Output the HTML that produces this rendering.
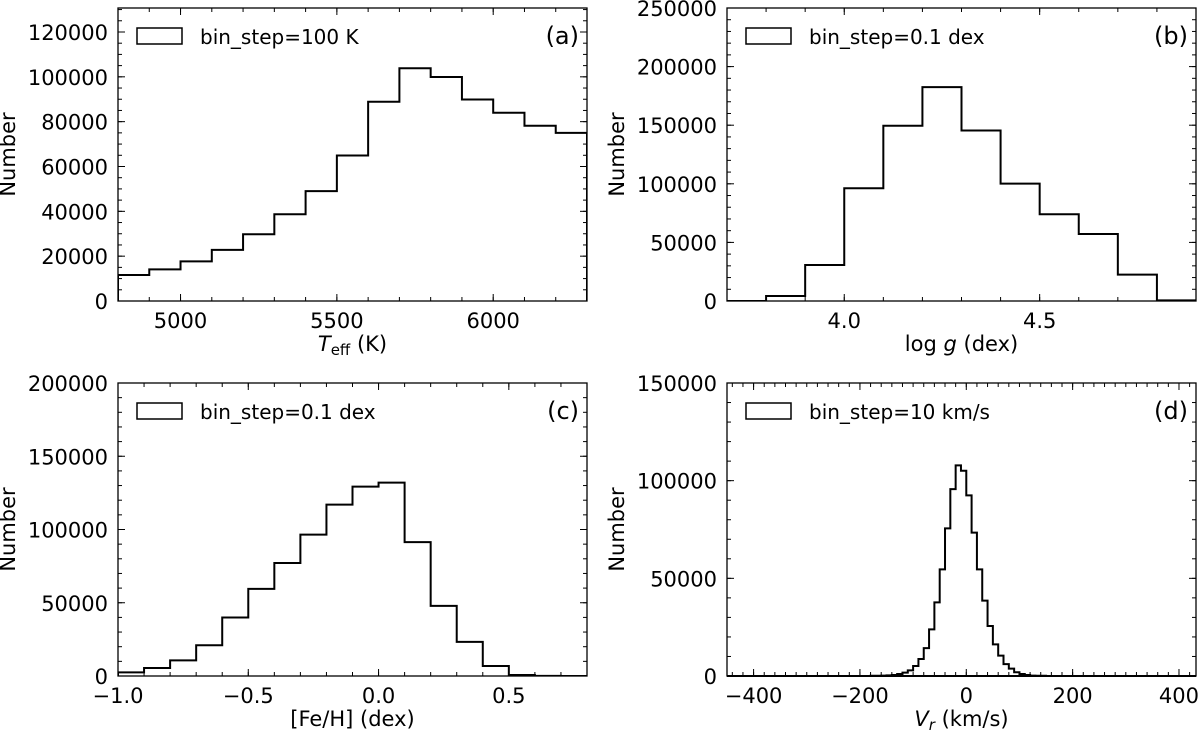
<!DOCTYPE html>
<html><head><meta charset="utf-8"><style>
html,body{margin:0;padding:0;background:#fff;}
svg{display:block;font-family:"DejaVu Sans","Liberation Sans",sans-serif;}
</style></head><body>
<svg id="fig" width="1200" height="730" viewBox="0 0 1200 730" xmlns="http://www.w3.org/2000/svg"></svg>
<script>
// Panel (a) Teff
const teffEdgeStart = 4800, teffStep = 100;
const teffCounts = [11600,14100,17700,22800,29800,38700,49000,64900,88900,103800,99900,89900,84000,78200,75000];
// Panel (b) log g
const loggEdgeStart = 3.7, loggStep = 0.1;
const loggCounts = [0,4300,30750,96200,149500,182500,145500,100200,74000,57200,22500,500];
// Panel (c) [Fe/H]
const fehEdgeStart = -1.0, fehStep = 0.1;
const fehCounts = [2500,5500,10700,21000,39900,59500,77100,96500,117000,129300,132000,91400,47900,23300,6800,700,100,0];
// Panel (d) Vr
const vrEdgeStart = -180, vrStep = 10;
const vrCounts = [100,100,200,300,500,1000,1700,2900,5100,8700,14300,23900,37700,54600,75600,95700,107800,105100,92500,73400,54600,38600,25600,16200,10400,6100,3800,1900,1000,500,200,100,100,0,0,0,0,0,0,0];

const aTicksX = [5000,5500,6000], aTicksY=[0,20000,40000,60000,80000,100000,120000];
const bTicksX = [4.0,4.5], bTicksY=[0,50000,100000,150000,200000,250000];
const cTicksX = [-1.0,-0.5,0.0,0.5], cTicksY=[0,50000,100000,150000,200000];
const dTicksX = [-400,-200,0,200,400], dTicksY=[0,50000,100000,150000];

const NS="http://www.w3.org/2000/svg";
const svg=document.getElementById('fig');
function mk(tag,attrs,parent){const e=document.createElementNS(NS,tag);for(const k in attrs)e.setAttribute(k,attrs[k]);(parent||svg).appendChild(e);return e;}

function panel(o){
  const g=mk('g',{});
  
  
  const sx=v=>o.x0+(v-o.xlim[0])/(o.xlim[1]-o.xlim[0])*(o.x1-o.x0);
  const sy=v=>o.y1-(v-o.ylim[0])/(o.ylim[1]-o.ylim[0])*(o.y1-o.y0);
  let d='';
  const n=o.counts.length;
  for(let i=0;i<n;i++){
    const xa=sx(o.start+i*o.step), xb=sx(o.start+(i+1)*o.step), y=sy(o.counts[i]);
    d+=(i===0?'M'+xa+','+sy(0)+' L'+xa+','+y:' L'+xa+','+y)+' L'+xb+','+y;
  }
  d+=' L'+sx(o.start+n*o.step)+','+sy(0);
  const clip=mk('clipPath',{id:'clip-'+o.name},g);
  mk('rect',{x:o.x0,y:o.y0,width:o.x1-o.x0,height:o.y1-o.y0},clip);
  if(o.baseline){ const bl=mk('line',{x1:o.x0,x2:o.x1,y1:sy(0),y2:sy(0),stroke:'#000','stroke-width':2},g);
    
     }
  const p=mk('path',{d:d,fill:'none',stroke:'#000','stroke-width':2,'clip-path':'url(#clip-'+o.name+')'},g);
  
  
  const tk=(x1,y1,x2,y2)=>mk('line',{x1,y1,x2,y2,stroke:'#000','stroke-width':1},g);
  for(let v=o.xminor[0];v<=o.xlim[1]+1e-9;v+=o.xminor[1]){const x=sx(v);if(x<o.x0-0.5)continue;tk(x,o.y1,x,o.y1-4);tk(x,o.y0,x,o.y0+4);}
  for(let v=0;v<=o.ylim[1]+1e-9;v+=o.yminor){const y=sy(v);tk(o.x0,y,o.x0+4,y);tk(o.x1,y,o.x1-4,y);}
  o.ticksX.forEach(v=>{const x=sx(v);tk(x,o.y1,x,o.y1-7);tk(x,o.y0,x,o.y0+7);
    const t=mk('text',{x:x,y:o.y1+27,'text-anchor':'middle','font-size':21},g);
    t.textContent=o.fmtX(v);
    
    });
  o.ticksY.forEach(v=>{const y=sy(v);tk(o.x0,y,o.x0+7,y);tk(o.x1,y,o.x1-7,y);
    const t=mk('text',{x:o.x0-10,y:y+8,'text-anchor':'end','font-size':21},g);
    t.textContent=String(v);
    
    });
  const fr=mk('rect',{x:o.x0,y:o.y0,width:o.x1-o.x0,height:o.y1-o.y0,fill:'none',stroke:'#000','stroke-width':1.3},g);
  
  
  const yt=mk('text',{x:0,y:0,'text-anchor':'middle','font-size':21,transform:'translate('+(o.x0-o.ytOff)+','+((o.y0+o.y1)/2)+') rotate(-90)'},g);
  yt.textContent='Number';
  
  
  const xt=mk('text',{x:(o.x0+o.x1)/2,y:o.y1+50,'text-anchor':'middle','font-size':21},g);
  xt.innerHTML=o.xtitle;
  
  
  const lb=mk('rect',{x:o.x0+19,y:o.y0+20,width:45,height:16,fill:'#fff',stroke:'#000','stroke-width':1.5},g);
  
  
  const lt=mk('text',{x:o.x0+82,y:o.y0+36,'font-size':20},g);
  lt.textContent=o.legend;
  
  
  const pl=mk('text',{x:o.x1-8,y:o.y0+36,'text-anchor':'end','font-size':24},g);
  pl.textContent=o.letter;
  
  
}
const minus=s=>s.replace('-','\u2212');
panel({name:'panel-a-teff',x0:118,x1:587,y0:8,y1:301,xlim:[4800,6300],ylim:[0,130700],start:teffEdgeStart,step:teffStep,counts:teffCounts,
  ticksX:aTicksX,ticksY:aTicksY,xminor:[4800,100],yminor:5000,fmtX:v=>String(v),ytOff:103,
  xtitle:'<tspan font-style="italic">T</tspan><tspan font-size="15" dy="4">eff</tspan><tspan dy="-4"> (K)</tspan>',legend:'bin_step=100 K',letter:'(a)'});
panel({name:'panel-b-logg',x0:727,x1:1196,y0:8,y1:301,xlim:[3.7,4.9],ylim:[0,250000],start:loggEdgeStart,step:loggStep,counts:loggCounts,
  ticksX:bTicksX,ticksY:bTicksY,xminor:[3.7,0.1],yminor:10000,fmtX:v=>v.toFixed(1),ytOff:103,
  xtitle:'log <tspan font-style="italic">g</tspan> (dex)',legend:'bin_step=0.1 dex',letter:'(b)'});
panel({name:'panel-c-feh',x0:118,x1:587,y0:383,y1:676,xlim:[-1.0,0.8],ylim:[0,200000],start:fehEdgeStart,step:fehStep,counts:fehCounts,
  ticksX:cTicksX,ticksY:cTicksY,xminor:[-1.0,0.1],yminor:10000,fmtX:v=>minus(v.toFixed(1)),ytOff:103,
  xtitle:'[Fe/H] (dex)',legend:'bin_step=0.1 dex',letter:'(c)'});
panel({name:'panel-d-vr',x0:727,x1:1196,y0:383,y1:676,xlim:[-450,432],ylim:[0,150000],start:vrEdgeStart,step:vrStep,counts:vrCounts,baseline:true,
  ticksX:dTicksX,ticksY:dTicksY,xminor:[-440,20],yminor:10000,fmtX:v=>minus(String(v)),ytOff:103,
  xtitle:'<tspan font-style="italic">V</tspan><tspan font-size="15" dy="4" font-style="italic">r</tspan><tspan dy="-4"> (km/s)</tspan>',legend:'bin_step=10 km/s',letter:'(d)'});
</script>
</body></html>
